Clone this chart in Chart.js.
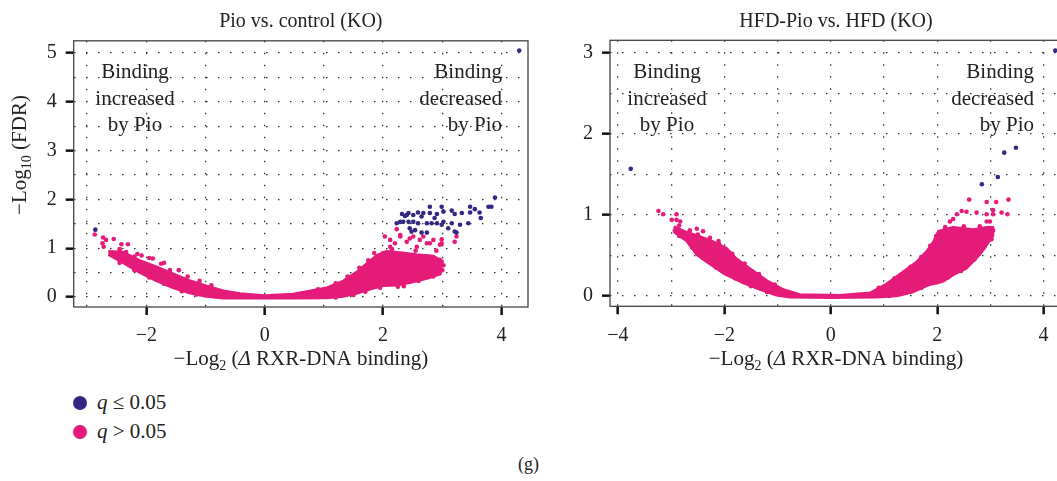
<!DOCTYPE html>
<html>
<head>
<meta charset="utf-8">
<script src="https://cdn.jsdelivr.net/npm/chart.js@4/dist/chart.umd.min.js"></script>
<style>
  html, body { margin: 0; padding: 0; background: #fff; }
  body { width: 1057px; height: 481px; overflow: hidden; position: relative; font-family: "Liberation Serif", serif; color: #222; }
  canvas { position: absolute; top: 0; }
  #chartLeft { left: 0; }
  #chartRight { left: 540px; }
  .dot { position: absolute; width: 14px; height: 14px; border-radius: 50%; }
  .leg { position: absolute; font-size: 21px; line-height: 24px; white-space: nowrap; }
  #caption { position: absolute; left: 0; width: 1057px; top: 454px; text-align: center; font-size: 18px; }
</style>
</head>
<body>
<canvas id="chartLeft" width="545" height="370"></canvas>
<canvas id="chartRight" width="527" height="370"></canvas>
<div class="dot" id="dotSig" style="left:73px; top:396px"></div>
<div class="leg" style="left:97px; top:390px"><i>q</i> ≤ 0.05</div>
<div class="dot" id="dotNs" style="left:73px; top:425px"></div>
<div class="leg" style="left:97px; top:419px"><i>q</i> &gt; 0.05</div>
<div id="caption">(g)</div>
<script>
const pink = 'rgb(229, 27, 122)'
const navy = 'rgb(50, 40, 130)'

// Panneau gauche : Pio vs. control (KO)
const leftXGrid = [-3, -2, -1, 0, 1, 2, 3, 4]
const leftXLabels = [-2, 0, 2, 4]
const leftYGrid = [0, 0.5, 1, 1.5, 2, 2.5, 3, 3.5, 4, 4.5, 5]
const leftYLabels = [0, 1, 2, 3, 4, 5]
// points q <= 0.05
const leftSig = [[4.30,5.05],[-2.86,1.38],[3.89,2.04],[3.78,1.85],[3.83,1.85],[3.63,1.73],[3.47,1.85],[3.47,1.73],
  [3.33,1.72],[3.21,1.70],[3.16,1.77],[2.99,1.85],[2.79,1.85],[3.02,1.75],[2.91,1.70],[2.79,1.72],[2.68,1.72],
  [2.59,1.73],[2.51,1.68],[2.43,1.72],[2.37,1.66],[2.65,1.65],[2.51,1.54],[2.43,1.54],[2.29,1.54],[2.59,1.51],
  [2.74,1.51],[2.82,1.51],[2.91,1.51],[3.02,1.54],[2.99,1.48],[3.16,1.51],[3.30,1.48],[3.44,1.51],[2.54,1.37],
  [2.45,1.41],[2.65,1.32],[2.74,1.32],[3.24,1.32],[3.10,1.41],[2.40,1.68],[2.23,1.51],[2.34,1.54],[2.48,1.34],
  [3.21,1.34],[2.32,1.70],[3.55,1.80],[3.65,1.62],[2.87,1.62]]
// points q > 0.05 isolés (bords du nuage)
const leftNs = [[-2.87,1.28],[-2.73,1.22],[-2.68,1.17],[-2.55,1.19],[-2.74,1.10],[-2.72,1.03],[-2.42,1.08],[-2.31,1.08],
  [-2.45,0.98],[-2.20,0.83],[-2.08,0.85],[-1.89,0.79],[-2.34,0.92],[-1.75,0.68],[-1.60,0.55],
  [-2.15,0.88],[-1.95,0.80],[-1.70,0.70],[-1.45,0.55],[-1.30,0.42],[-1.10,0.33],[-0.90,0.24],
  [-2.45,0.70],[-2.20,0.55],[-1.95,0.40],[-1.70,0.27],[-1.40,0.12],[-1.15,0.05],
  [0.90,0.16],[1.20,0.28],[1.40,0.42],[1.60,0.60],[1.75,0.75],[1.85,0.90],[2.15,0.98],
  [1.20,-0.01],[1.50,0.04],[1.70,0.11],[1.95,0.19],[2.35,0.22],[2.60,0.33],[2.85,0.42],[3.00,0.55],[3.02,0.65],
  [2.03,1.24],[2.12,1.17],[2.23,1.39],[2.29,1.27],[2.40,1.13],[2.51,1.24],[2.62,1.17],[2.74,1.10],[2.57,1.03],
  [2.85,1.17],[2.99,1.18],[2.99,1.10],[2.12,1.03],[2.00,0.90],[1.95,0.79],[2.40,0.83],[2.74,0.83],[2.96,0.76],
  [2.85,0.62],[2.62,0.55],[2.23,0.35],[2.45,0.31],[3.24,1.24],[3.21,1.13],[2.29,1.24],[2.45,1.20],[2.68,1.24],
  [2.79,1.10],[2.96,1.07],[2.99,0.72],[2.79,0.55],[2.65,0.52],[2.45,0.38],[2.25,0.21],[2.55,0.95],[2.20,1.10],
  [1.85,0.55],[2.90,0.95]]
// contour du nuage dense q > 0.05 (bord haut puis bord bas)
const leftCloud = [[-2.64,0.94],[-2.39,0.92],[-2.11,0.75],[-1.83,0.62],[-1.55,0.48],[-1.27,0.34],[-0.99,0.23],
  [-0.70,0.13],[-0.42,0.07],[0.00,0.03],[0.48,0.06],[1.05,0.19],[1.33,0.33],[1.55,0.51],[1.72,0.68],[1.89,0.85],
  [2.06,0.94],[2.29,0.91],[2.56,0.87],[2.85,0.84],[2.99,0.74],
  [2.97,0.47],[2.74,0.38],[2.45,0.29],[2.23,0.24],[2.00,0.23],[1.78,0.16],[1.55,0.07],[1.33,0.01],[1.05,-0.02],
  [0.50,-0.025],[0.00,-0.025],[-0.70,-0.025],[-0.99,0.01],[-1.27,0.08],[-1.55,0.19],[-1.83,0.33],[-2.11,0.50],
  [-2.39,0.70],[-2.64,0.87]]

// Panneau droit : HFD-Pio vs. HFD (KO)
const rightXGrid = [-4, -3, -2, -1, 0, 1, 2, 3, 4]
const rightXLabels = [-4, -2, 0, 2, 4]
const rightYGrid = [0, 0.5, 1, 1.5, 2, 2.5, 3]
const rightYLabels = [0, 1, 2, 3]
const rightSig = [[-3.76,1.57],[2.84,1.38],[3.14,1.47],[3.26,1.77],[3.48,1.83],[4.22,3.03]]
const rightNs = [[-3.24,1.05],[-3.15,1.01],[-2.90,1.01],[-2.99,0.94],[-2.90,0.94],[-2.83,0.92],[-2.93,0.81],
  [-2.65,0.81],[-2.52,0.83],[-2.40,0.80],[-2.77,0.73],[-2.61,0.71],[-2.45,0.72],[-2.27,0.72],[-2.11,0.68],
  [-2.58,0.65],[-2.24,0.63],
  [-2.85,0.87],[-2.50,0.76],[-2.10,0.64],[-1.85,0.52],[-1.62,0.40],[-1.35,0.27],[-1.05,0.14],
  [-2.85,0.74],[-2.60,0.60],[-2.40,0.47],[-2.15,0.35],[-1.80,0.22],[-1.50,0.12],[-1.20,0.05],
  [0.90,0.10],[1.20,0.22],[1.50,0.36],[1.70,0.48],[1.87,0.62],[1.98,0.74],[2.15,0.85],[2.50,0.86],[2.80,0.86],
  [1.10,0.00],[1.40,0.04],[1.70,0.10],[2.00,0.17],[2.20,0.23],[2.45,0.31],[2.70,0.45],[2.88,0.60],[3.02,0.70],
  [2.60,1.19],[2.93,1.16],[3.11,1.16],[3.34,1.19],[2.46,1.05],[2.55,1.04],[2.74,1.03],[2.37,1.01],[2.93,1.01],
  [3.05,1.06],[3.05,1.01],[3.21,1.03],[3.32,1.01],[2.24,0.92],[2.30,0.95],[2.93,0.92],[2.99,0.92],[2.99,0.84],
  [3.05,0.81]]
const rightCloud = [[-2.95,0.86],[-2.71,0.79],[-2.27,0.69],[-1.96,0.59],[-1.77,0.46],[-1.52,0.34],[-1.20,0.19],
  [-0.89,0.08],[-0.58,0.02],[0.17,0.01],[0.74,0.04],[1.05,0.15],[1.36,0.30],[1.61,0.42],[1.80,0.55],[1.93,0.67],
  [2.02,0.80],[2.30,0.85],[2.68,0.82],[2.93,0.85],[3.05,0.85],
  [3.05,0.74],[2.93,0.63],[2.80,0.51],[2.55,0.34],[2.30,0.26],[2.11,0.18],[1.86,0.14],[1.55,0.05],[1.24,0.00],
  [0.86,-0.015],[0.00,-0.02],[-0.77,-0.015],[-1.02,0.01],[-1.33,0.08],[-1.64,0.16],[-2.02,0.28],[-2.33,0.42],
  [-2.52,0.51],[-2.71,0.68],[-2.95,0.79]]

document.getElementById('dotSig').style.background = navy
document.getElementById('dotNs').style.background = pink

const serif = '"Liberation Serif", serif'
const fmt = v => v < 0 ? '\u2212' + Math.abs(v) : String(v)
const toXY = p => ({ x: p[0], y: p[1] })

function drawParts(ctx, parts, x, y, align) {
    let total = 0
    parts.forEach(p => { ctx.font = p.font; p.w = ctx.measureText(p.text).width; total += p.w })
    let cx = align === 'center' ? x - total / 2 : x
    ctx.textAlign = 'left'
    ctx.textBaseline = 'alphabetic'
    parts.forEach(p => { ctx.font = p.font; ctx.fillText(p.text, cx, y + (p.dy || 0)); cx += p.w })
}

function decor(opts) {
    return {
        id: 'decor',
        afterDraw(chart) {
            const ctx = chart.ctx
            const a = chart.chartArea
            const mid = (a.left + a.right) / 2
            ctx.save()
            // cadre
            ctx.strokeStyle = '#444'
            ctx.lineWidth = 1.3
            ctx.strokeRect(a.left, a.top, a.right - a.left, a.bottom - a.top)
            ctx.fillStyle = '#222'
            // titre
            ctx.font = '20px ' + serif
            ctx.textAlign = 'center'
            ctx.textBaseline = 'alphabetic'
            ctx.fillText(opts.title, mid, 27)
            // annotations
            ctx.font = '21px ' + serif
            const lines1 = ['Binding', 'increased', 'by Pio']
            const lines2 = ['Binding', 'decreased', 'by Pio']
            lines1.forEach((t, i) => { ctx.textAlign = 'center'; ctx.fillText(t, opts.noteLeft, 78 + i * 26.5) })
            lines2.forEach((t, i) => { ctx.textAlign = 'right'; ctx.fillText(t, opts.noteRight, 78 + i * 26.5) })
            // titre axe x
            drawParts(ctx, [
                { text: '\u2212Log', font: '21px ' + serif },
                { text: '2', font: '14px ' + serif, dy: 5 },
                { text: ' (', font: '21px ' + serif },
                { text: '\u0394', font: 'italic 21px ' + serif },
                { text: ' RXR-DNA binding)', font: '21px ' + serif }
            ], mid, 365, 'center')
            // titre axe y
            if (opts.yTitle) {
                ctx.translate(26, 155)
                ctx.rotate(-Math.PI / 2)
                drawParts(ctx, [
                    { text: '\u2212Log', font: '21px ' + serif },
                    { text: '10', font: '14px ' + serif, dy: 5 },
                    { text: ' (FDR)', font: '21px ' + serif }
                ], 0, 0, 'center')
            }
            ctx.restore()
        }
    }
}

function axis(min, max, grid, labels, fit) {
    return {
        type: 'linear', min: min, max: max,
        afterBuildTicks: s => { s.ticks = grid.map(v => ({ value: v })) },
        afterFit: fit,
        ticks: {
            autoSkip: false, maxRotation: 0, padding: 9,
            color: '#222', font: { family: serif, size: 20 },
            callback: v => labels.includes(v) ? fmt(v) : ''
        },
        grid: {
            color: '#333', lineWidth: 1.3, tickLength: 8, tickWidth: 2.5, tickBorderDash: [],
            tickColor: c => labels.includes(c.tick.value) ? '#111' : 'rgba(0,0,0,0)'
        },
        border: { display: false, dash: [1.5, 10.5] }
    }
}

function drawPanel(id, p) {
    return new Chart(document.getElementById(id), {
        type: 'scatter',
        data: {
            datasets: [{
                label: 'q \u2264 0.05',
                data: p.sig.map(toXY),
                backgroundColor: navy, borderColor: navy, pointRadius: 2.3, borderWidth: 0
            }, {
                label: 'q > 0.05',
                data: p.ns.map(toXY),
                backgroundColor: pink, borderColor: pink, pointRadius: 2.3, borderWidth: 0
            }, {
                type: 'line',
                label: 'q > 0.05 (nuage)',
                data: p.cloud.map(toXY),
                borderColor: pink, backgroundColor: pink, fill: 'shape',
                pointRadius: 0, borderWidth: 2.5, tension: 0, borderJoinStyle: 'round'
            }]
        },
        options: {
            responsive: false,
            animation: false,
            layout: { padding: p.padding },
            plugins: { legend: { display: false }, tooltip: { enabled: false } },
            scales: {
                x: axis(p.xMin, p.xMax, p.xGrid, p.xLabels, s => { s.height = p.xHeight }),
                y: axis(p.yMin, p.yMax, p.yGrid, p.yLabels, s => { s.width = p.yWidth })
            }
        },
        plugins: [decor(p.decor)]
    })
}

drawPanel('chartLeft', {
    sig: leftSig, ns: leftNs, cloud: leftCloud,
    xMin: -3.226, xMax: 4.448, yMin: -0.205, yMax: 5.25,
    xGrid: leftXGrid, xLabels: leftXLabels, yGrid: leftYGrid, yLabels: leftYLabels,
    padding: { top: 40.8, right: 17, bottom: 0, left: 0 }, xHeight: 63, yWidth: 73.7,
    decor: { title: 'Pio vs. control (KO)', noteLeft: 135, noteRight: 502, yTitle: true }
})

drawPanel('chartRight', {
    sig: rightSig, ns: rightNs, cloud: rightCloud,
    xMin: -4.15, xMax: 4.346, yMin: -0.127, yMax: 3.157,
    xGrid: rightXGrid, xLabels: rightXLabels, yGrid: rightYGrid, yLabels: rightYLabels,
    padding: { top: 40.3, right: 5, bottom: 0, left: 0 }, xHeight: 63.7, yWidth: 70,
    decor: { title: 'HFD-Pio vs. HFD (KO)', noteLeft: 127, noteRight: 494, yTitle: false }
})
</script>
</body>
</html>
